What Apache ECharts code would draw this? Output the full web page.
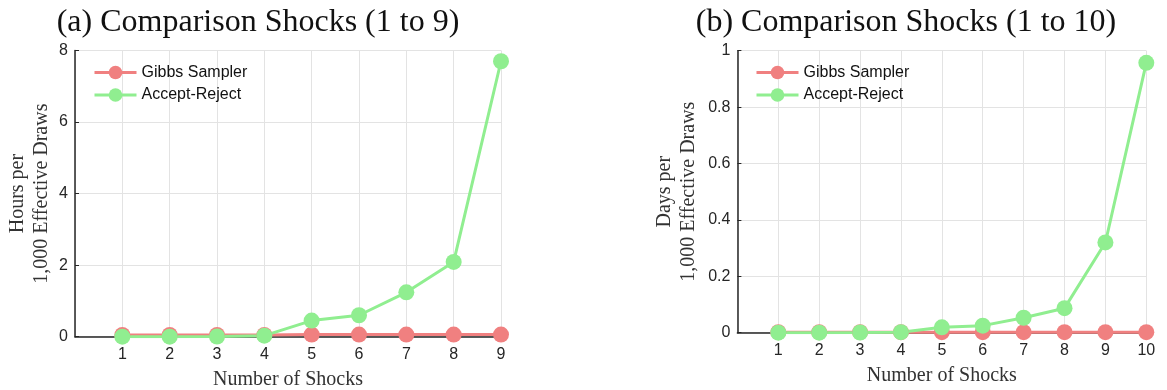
<!DOCTYPE html>
<html>
<head>
<meta charset="utf-8">
<script src="https://cdn.jsdelivr.net/npm/echarts@6/dist/echarts.min.js"></script>
<style>html,body{margin:0;padding:0;background:#fff;}#c{width:1167px;height:390px;}</style>
</head>
<body>
<div id="c"></div>
<script>
// Panel (a): shocks 1..9, hours per 1,000 effective draws
const shocksA = [1, 2, 3, 4, 5, 6, 7, 8, 9];
const gibbsA = [0.05, 0.05, 0.05, 0.05, 0.06, 0.06, 0.06, 0.06, 0.06];
const acceptA = [0.001, 0.002, 0.006, 0.03, 0.45, 0.6, 1.24, 2.09, 7.7];
// Panel (b): shocks 1..10, days per 1,000 effective draws
const shocksB = [1, 2, 3, 4, 5, 6, 7, 8, 9, 10];
const gibbsB = [0.002, 0.002, 0.002, 0.002, 0.002, 0.002, 0.002, 0.002, 0.002, 0.002];
const acceptB = [0.0001, 0.0002, 0.0006, 0.002, 0.019, 0.025, 0.053, 0.087, 0.32, 0.957];
const titles = ['(a) Comparison Shocks (1 to 9)', '(b) Comparison Shocks (1 to 10)'];
const yNames = ['Hours per\n1,000 Effective Draws', 'Days per\n1,000 Effective Draws'];
const xName = 'Number of Shocks';
const names = ['Gibbs Sampler', 'Accept-Reject'];

const RED = '#F08080', GREEN = '#90EE90';
const serif = 'Liberation Serif', sans = 'Liberation Sans';
const pair = (xs, ys) => xs.map((x, i) => [x, ys[i]]);

function xAxisCfg(idx, max) {
  return {
    gridIndex: idx, type: 'value', min: 0, max: max, interval: 1,
    name: xName, nameLocation: 'middle', nameGap: 33,
    nameTextStyle: { fontFamily: serif, fontSize: 20, color: '#333' },
    axisLine: { show: true, onZero: false, lineStyle: { color: '#262626', width: 1.5 } },
    axisTick: { show: false },
    axisLabel: { margin: 10, fontFamily: sans, fontSize: 16, color: '#262626',
      formatter: v => v === 0 ? '' : String(v) },
    splitLine: { show: true, lineStyle: { color: '#e3e3e3', width: 1 } }
  };
}
function yAxisCfg(idx, max, interval, name, gap) {
  return {
    gridIndex: idx, type: 'value', min: 0, max: max, interval: interval,
    name: name, nameLocation: 'middle', nameGap: gap, nameRotate: 90,
    nameTextStyle: { fontFamily: serif, fontSize: 20, color: '#333', lineHeight: 24, align: 'center' },
    axisLine: { show: true, lineStyle: { color: '#262626', width: 1.5 } },
    axisTick: { show: true, inside: true, length: 4, lineStyle: { color: '#262626' } },
    axisLabel: { margin: 7, fontFamily: sans, fontSize: 16, color: '#262626' },
    splitLine: { show: true, lineStyle: { color: '#e3e3e3', width: 1 } }
  };
}
function seriesCfg(name, idx, data, color) {
  return {
    name: name, type: 'line', xAxisIndex: idx, yAxisIndex: idx, data: data,
    symbol: 'circle', symbolSize: 16, showSymbol: true,
    lineStyle: { color: color, width: 3 }, itemStyle: { color: color },
    emphasis: { disabled: true }, animation: false
  };
}
function legendCfg(left) {
  return {
    data: names, left: left, top: 64.5, orient: 'vertical', padding: 0,
    itemWidth: 42, itemHeight: 17, itemGap: 6.5,
    lineStyle: { width: 3 },
    textStyle: { fontFamily: sans, fontSize: 16, color: '#111' },
    selectedMode: false
  };
}

const chart = echarts.init(document.getElementById('c'), null, { renderer: 'canvas' });
chart.setOption({
  animation: false,
  backgroundColor: '#fff',
  title: [
    { text: titles[0], left: 258, top: 7, textAlign: 'center', padding: 0,
      textStyle: { fontFamily: serif, fontSize: 32, fontWeight: 'normal', color: '#111' } },
    { text: titles[1], left: 906, top: 7, textAlign: 'center', padding: 0,
      textStyle: { fontFamily: serif, fontSize: 32, fontWeight: 'normal', color: '#111' } }
  ],
  legend: [legendCfg(93), legendCfg(755)],
  grid: [
    { left: 75, right: 666, top: 50.5, bottom: 53.3, containLabel: false, outerBoundsMode: 'none' },
    { left: 737.4, right: 20.7, top: 50.7, bottom: 57.3, containLabel: false, outerBoundsMode: 'none' }
  ],
  xAxis: [xAxisCfg(0, 9), xAxisCfg(1, 10)],
  yAxis: [yAxisCfg(0, 8, 2, yNames[0], 21), yAxisCfg(1, 1, 0.2, yNames[1], 37)],
  series: [
    seriesCfg(names[0], 0, pair(shocksA, gibbsA), RED),
    seriesCfg(names[1], 0, pair(shocksA, acceptA), GREEN),
    seriesCfg(names[0], 1, pair(shocksB, gibbsB), RED),
    seriesCfg(names[1], 1, pair(shocksB, acceptB), GREEN)
  ]
});
</script>
</body>
</html>
